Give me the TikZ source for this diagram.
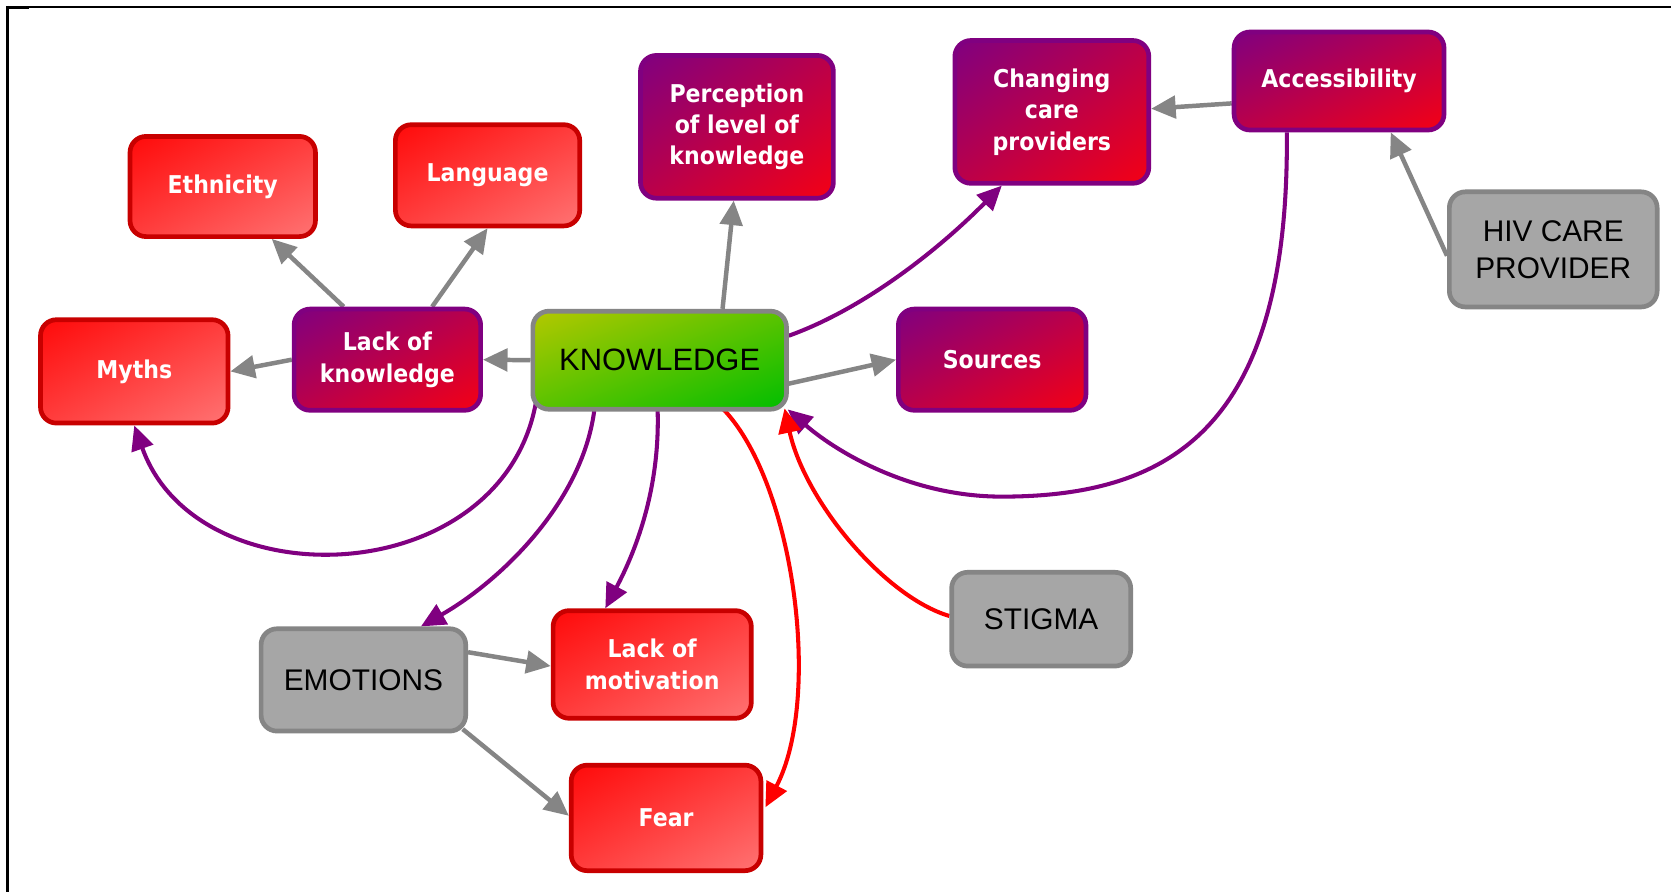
\documentclass[tikz,border=0pt]{standalone}
\usepackage{fontspec}
\setmainfont{Liberation Sans}
\newfontfamily\wfont[FakeStretch=0.9]{DejaVu Sans}
\usetikzlibrary{arrows.meta,calc,backgrounds,shadings}
\definecolor{redUL}{HTML}{FF0A0A}
\definecolor{redLR}{HTML}{FF7373}
\definecolor{redMid}{HTML}{FF3C3C}
\definecolor{redBorder}{HTML}{C80000}
\definecolor{purUL}{HTML}{800080}
\definecolor{purLR}{HTML}{F50014}
\definecolor{purMid}{HTML}{BA004A}
\definecolor{greUL}{HTML}{B4C800}
\definecolor{greLR}{HTML}{00BE00}
\definecolor{greMid}{HTML}{5AC300}
\definecolor{grayFill}{HTML}{A6A6A6}
\definecolor{grayBorder}{HTML}{858585}
\definecolor{edgeGray}{HTML}{858585}
\definecolor{edgePur}{HTML}{800080}
\definecolor{edgeRed}{HTML}{FF0000}
\begin{document}
\begin{tikzpicture}[x=0.5pt,y=-0.5pt,
  box/.style={rectangle, rounded corners=7.5pt, line width=2.2pt, align=center, inner sep=2pt},
  whitetext/.style={text=white, font=\wfont\bfseries\fontsize{11.5}{14.75}\selectfont},
  redbox/.style={box, whitetext, draw=redBorder, upper left=redUL, upper right=redMid, lower left=redMid, lower right=redLR},
  purbox/.style={box, whitetext, draw=purUL, upper left=purUL, upper right=purMid, lower left=purMid, lower right=purLR},
  greenbox/.style={box, draw=grayBorder, upper left=greUL, upper right=greMid, lower left=greMid, lower right=greLR, font=\fontsize{14.5}{17.5}\selectfont},
  graybox/.style={box, draw=grayBorder, fill=grayFill, font=\fontsize{14}{17.5}\selectfont},
  tip/.style={-{Triangle[length=11.5pt,width=10.5pt]}},
  gedge/.style={tip, draw=edgeGray, line width=2.1pt},
  pedge/.style={tip, draw=edgePur, line width=1.9pt},
  redge/.style={tip, draw=edgeRed, line width=1.9pt}
]
\useasboundingbox (0,0) rectangle (1568,837);
% frame
\draw[line width=0.9pt] (6,6.5) -- (1568,6.5);
\draw[line width=1.3pt] (6.8,5.6) -- (6.8,837);
\draw[line width=1.5pt] (6,7) -- (27,7);

% nodes
\node[redbox, minimum width=87pt, minimum height=47pt] (eth) at (209,175) {Ethnicity};
\node[redbox, minimum width=86.5pt, minimum height=47.5pt] (lang) at (457.5,164.5) {Language};
\node[redbox, minimum width=88pt, minimum height=48.5pt] (myths) at (126,348.5) {Myths};
\node[purbox, minimum width=87.5pt, minimum height=47.5pt] (lok) at (363.5,337.5) {Lack of\\knowledge};
\node[greenbox, minimum width=119pt, minimum height=46pt] (know) at (619,338) {KNOWLEDGE};
\node[purbox, minimum width=90.5pt, minimum height=67pt] (perc) at (691.5,119) {Perception\\of level of\\knowledge};
\node[purbox, minimum width=91pt, minimum height=67pt] (chg) at (987,105) {Changing\\care\\providers};
\node[purbox, minimum width=98.5pt, minimum height=46pt] (acc) at (1256.5,76) {Accessibility};
\node[graybox, minimum width=97.5pt, minimum height=54pt] (hiv) at (1457.5,234) {HIV CARE\\PROVIDER};
\node[purbox, minimum width=88pt, minimum height=47.5pt] (src) at (931,337.5) {Sources};
\node[graybox, minimum width=84pt, minimum height=44pt] (stig) at (977,581) {STIGMA};
\node[graybox, minimum width=96pt, minimum height=48pt] (emo) at (341,638) {EMOTIONS};
\node[redbox, minimum width=93pt, minimum height=50.5pt] (lom) at (612,623.5) {Lack of\\motivation};
\node[redbox, minimum width=89pt, minimum height=49.5pt] (fear) at (625,767.5) {Fear};

\begin{scope}[on background layer]
\fill[white] (0,0) rectangle (1568,837);
% gray straight edges
\draw[gedge] (know.west) -- (lok.east);
\draw[gedge] (lok.west) -- (myths.east);
\draw[gedge] ($(lok.north)+(-41,0)$) -- ($(eth.south)+(46,0)$);
\draw[gedge] ($(lok.north)+(42,0)$) -- (lang.south);
\draw[gedge] ($(know.north)+(59,0)$) -- ($(perc.south)+(-3,0)$);
\draw[gedge] ($(know.east)+(0,22)$) -- (src.west);
\draw[gedge] ($(acc.west)+(0,21)$) -- ($(chg.east)+(0,-3)$);
\draw[gedge] ($(hiv.west)+(0,6)$) -- ($(acc.south)+(48.5,0)$);
\draw[gedge] ($(emo.east)+(0,-26)$) -- ($(lom.west)+(0,1.5)$);
\draw[gedge] ($(emo.south east)+(-5,-4)$) -- ($(fear.west)+(0,-2)$);
% purple curves
\draw[pedge] ($(know.east)+(0,-23)$) .. controls (810,290) and (880,235) .. ($(chg.south)+(-47,0)$);
\draw[pedge] ($(know.south west)+(5,-8)$) .. controls (470,555) and (185,565) .. (myths.south);
\draw[pedge] ($(know.south)+(-61,-4)$) .. controls (548,470) and (470,545) .. ($(emo.north)+(54,0)$);
\draw[pedge] ($(know.south)+(-2,-4)$) .. controls (620,460) and (595,520) .. ($(lom.north)+(-44,0)$);
\draw[pedge] ($(acc.south)+(-49,0)$) .. controls (1210,400) and (1100,466) .. (940,466)
   .. controls (850,466) and (780,420) .. ($(know.south east)+(-1,-2)$);
% red curves
\draw[redge] ($(know.south)+(58,-4)$) .. controls (745,450) and (772,655) .. ($(fear.east)+(2,-10)$);
\draw[redge] ($(stig.west)+(0,-3)$) .. controls (830,560) and (755,470) .. ($(know.south east)+(-4,-3)$);
\end{scope}
\end{tikzpicture}
\end{document}
